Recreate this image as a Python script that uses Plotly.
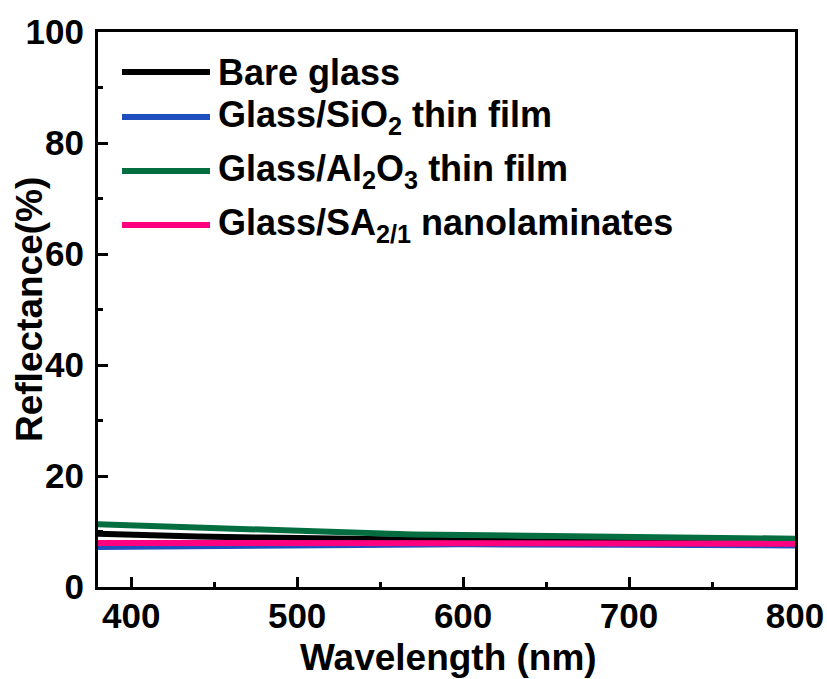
import plotly.graph_objects as go

# ---- data ----
wl_black = [380, 400, 440, 480, 520, 560, 600, 640, 700, 800]
r_black = [9.6, 9.4, 9.1, 8.9, 8.7, 8.5, 8.35, 8.25, 8.2, 8.1]

wl_blue = [380, 450, 500, 600, 700, 800]
r_blue = [7.2, 7.4, 7.6, 7.7, 7.6, 7.5]

wl_green = [380, 400, 420, 440, 460, 480, 500, 520, 540, 570, 600, 645, 660, 700, 750, 800]
r_green = [11.3, 11.1, 10.8, 10.5, 10.3, 10.1, 9.9, 9.8, 9.65, 9.45, 9.35, 9.2, 9.0, 8.9, 8.8, 8.7]

wl_pink = [380, 500, 645, 660, 800]
r_pink = [7.95, 7.9, 7.9, 7.8, 7.8]

names = ["Bare glass",
         "Glass/SiO<sub>2</sub> thin film",
         "Glass/Al<sub>2</sub>O<sub>3</sub> thin film",
         "Glass/SA<sub>2/1</sub> nanolaminates"]
colors = ["#000000", "#1f4fbf", "#046e40", "#ff0080"]

x_ticks = [400, 500, 600, 700, 800]
y_ticks = [0, 20, 40, 60, 80, 100]
x_title = "Wavelength (nm)"
y_title = "Reflectance(%)"

FONT = "Liberation Sans, Arial, sans-serif"

fig = go.Figure()
for wl, r, c, n in zip([wl_black, wl_blue, wl_green, wl_pink],
                       [r_black, r_blue, r_green, r_pink], colors, names):
    fig.add_trace(go.Scatter(x=wl, y=r, mode="lines", name=n,
                             line=dict(color=c, width=6), showlegend=False))

W, H = 827, 679
ml, mr, mt, mb = 98, 32, 32, 92
pw, ph = W - ml - mr, H - mt - mb

def px(xx):
    return (xx - ml) / pw

def py(yy):
    return 1 - (yy - mt) / ph

# manual legend
leg_y = [72, 117, 171, 225]
for yy, c, n in zip(leg_y, colors, names):
    fig.add_shape(type="line", xref="paper", yref="paper",
                  x0=px(122), x1=px(210), y0=py(yy), y1=py(yy),
                  line=dict(color=c, width=6))
    fig.add_annotation(xref="paper", yref="paper", x=px(216), y=py(yy),
                       xanchor="left", yanchor="middle", showarrow=False,
                       text=n, font=dict(family=FONT, size=36, color="black",
                                         weight="bold"))

# axis titles
fig.add_annotation(xref="paper", yref="paper", x=px(448), y=py(657),
                   xanchor="center", yanchor="middle", showarrow=False,
                   text=x_title, font=dict(family=FONT, size=37, color="black", weight="bold"))
fig.add_annotation(xref="paper", yref="paper", x=px(29), y=py(310),
                   xanchor="center", yanchor="middle", showarrow=False, textangle=-90,
                   text=y_title, font=dict(family=FONT, size=37, color="black", weight="bold"))

axis_common = dict(showline=True, linewidth=3, linecolor="black", mirror=True,
                   ticks="inside", ticklen=10, tickwidth=3, tickcolor="black",
                   showgrid=False, zeroline=False, automargin=False,
                   tickfont=dict(family=FONT, size=35, color="black", weight="bold"))

fig.update_xaxes(range=[380, 800], tickvals=x_ticks,
                 minor=dict(ticks="inside", ticklen=5, tickwidth=3, dtick=50,
                            tick0=350, tickcolor="black"),
                 ticklabelstandoff=-4,
                 **axis_common)
fig.update_yaxes(range=[0, 100], tickvals=y_ticks,
                 minor=dict(ticks="inside", ticklen=5, tickwidth=3, dtick=10,
                            tick0=0, tickcolor="black"),
                 ticklabelstandoff=4,
                 **axis_common)

fig.update_layout(width=W, height=H, margin=dict(l=ml, r=mr, t=mt, b=mb),
                  paper_bgcolor="white", plot_bgcolor="white",
                  font=dict(family=FONT))
fig.write_html("out.html")
